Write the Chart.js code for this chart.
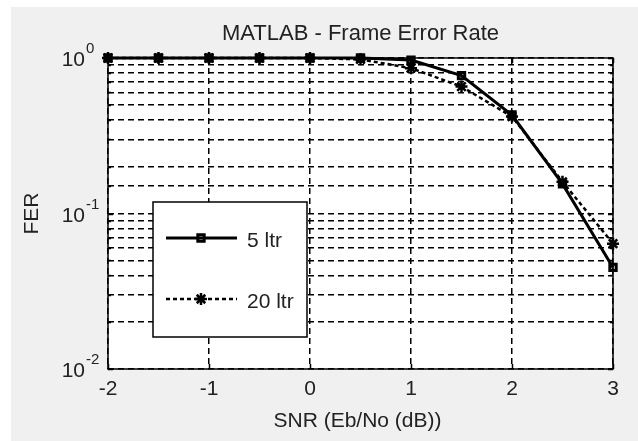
<!DOCTYPE html>
<html>
<head>
<meta charset="utf-8">
<title>MATLAB - Frame Error Rate</title>
<script src="https://cdn.jsdelivr.net/npm/chart.js@4.4.0/dist/chart.umd.min.js"></script>
<style>
  html, body { margin: 0; padding: 0; background: #fff; }
  #wrap { width: 638px; height: 441px; }
</style>
</head>
<body>
<div id="wrap"><canvas id="ferChart" width="638" height="441"></canvas></div>
<script>
// 数据
const snrDb = [-2, -1.5, -1, -0.5, 0, 0.5, 1, 1.5, 2, 2.5, 3];
const fer5Itr = [1, 1, 1, 1, 1, 1, 0.97, 0.77, 0.43, 0.155, 0.045];
const fer20Itr = [1, 1, 1, 1, 1, 0.98, 0.86, 0.655, 0.42, 0.16, 0.064];
const seriesLabels = ['5 ltr', '20 ltr'];
const xTickValues = [-2, -1, 0, 1, 2, 3];
const yMajorValues = [1, 0.1, 0.01];
const yExponents = ['0', '-1', '-2'];
const chartTitle = 'MATLAB - Frame Error Rate';
const xTitle = 'SNR (Eb/No (dB))';
const yTitle = 'FER';

const FONT = "'Liberation Sans', Arial, sans-serif";
const TEXT = '#222222';

function toPoints(xs, ys) {
  return xs.map((x, i) => ({ x, y: ys[i] }));
}

/**
 * MATLAB 风格的外框、文字和图例
 */
const matlabFrame = {
  id: 'matlabFrame',
  beforeDraw(chart) {
    const ctx = chart.ctx;
    const a = chart.chartArea;
    ctx.save();
    ctx.fillStyle = '#ffffff';
    ctx.fillRect(0, 0, chart.width, chart.height);
    ctx.fillStyle = '#f0f0f0';
    ctx.fillRect(11, 7, chart.width - 11, chart.height - 7);
    ctx.fillStyle = '#ffffff';
    ctx.fillRect(a.left, a.top, a.right - a.left, a.bottom - a.top);
    ctx.restore();
  },
  beforeDatasetsDraw(chart) {
    const ctx = chart.ctx;
    const a = chart.chartArea;
    const xs = chart.scales.x;
    const ys = chart.scales.y;
    ctx.save();
    ctx.strokeStyle = '#000';
    ctx.lineWidth = 1.5;
    // 刻度线（内侧）
    ctx.beginPath();
    xTickValues.forEach(v => {
      const px = Math.round(xs.getPixelForValue(v)) + 0.5;
      ctx.moveTo(px, a.bottom); ctx.lineTo(px, a.bottom - 5);
      ctx.moveTo(px, a.top); ctx.lineTo(px, a.top + 5);
    });
    ys.ticks.forEach(t => {
      const py = Math.round(ys.getPixelForValue(t.value)) + 0.5;
      const len = yMajorValues.includes(t.value) ? 5 : 3;
      ctx.moveTo(a.left, py); ctx.lineTo(a.left + len, py);
      ctx.moveTo(a.right, py); ctx.lineTo(a.right - len, py);
    });
    ctx.stroke();
    ctx.strokeRect(a.left, a.top, a.right - a.left, a.bottom - a.top);
    ctx.restore();
  },
  afterDraw(chart) {
    const ctx = chart.ctx;
    const a = chart.chartArea;
    const ys = chart.scales.y;
    const cx = (a.left + a.right) / 2;
    ctx.save();
    ctx.fillStyle = TEXT;

    // 标题
    ctx.font = '22px ' + FONT;
    ctx.textAlign = 'center';
    ctx.textBaseline = 'alphabetic';
    ctx.fillText(chartTitle, cx, 40);

    // x 轴标题
    ctx.font = '21px ' + FONT;
    ctx.fillText(xTitle, cx - 3, 427);

    // y 轴标题
    ctx.save();
    ctx.translate(38, (a.top + a.bottom) / 2);
    ctx.rotate(-Math.PI / 2);
    ctx.textAlign = 'center';
    ctx.fillText(yTitle, 0, 0);
    ctx.restore();

    // y 轴刻度标签 10^n
    yMajorValues.forEach((v, i) => {
      const py = ys.getPixelForValue(v);
      ctx.font = '21px ' + FONT;
      ctx.textAlign = 'right';
      ctx.textBaseline = 'alphabetic';
      ctx.fillText('10', 85, py + 8);
      ctx.font = '15px ' + FONT;
      ctx.textAlign = 'left';
      ctx.fillText(yExponents[i], 86, py - 5);
    });

    // 图例
    const box = { left: 153, top: 202, right: 307, bottom: 337 };
    ctx.fillStyle = '#ffffff';
    ctx.fillRect(box.left, box.top, box.right - box.left, box.bottom - box.top);
    ctx.strokeStyle = '#000';
    ctx.lineWidth = 1.5;
    ctx.strokeRect(box.left, box.top, box.right - box.left, box.bottom - box.top);

    const rows = [238, 299];
    chart.data.datasets.forEach((ds, i) => {
      const y = rows[i];
      ctx.save();
      ctx.strokeStyle = ds.borderColor;
      ctx.lineWidth = ds.borderWidth;
      ctx.setLineDash(ds.borderDash || []);
      ctx.beginPath();
      ctx.moveTo(166, y);
      ctx.lineTo(237, y);
      ctx.stroke();
      ctx.setLineDash([]);
      ctx.strokeStyle = ds.pointBorderColor;
      ctx.fillStyle = ds.pointBackgroundColor;
      ctx.lineWidth = ds.pointBorderWidth;
      Chart.helpers.drawPoint(ctx, {
        pointStyle: ds.pointStyle,
        radius: ds.pointRadius,
        borderWidth: ds.pointBorderWidth,
        rotation: 0
      }, 201, y);
      ctx.restore();
      ctx.fillStyle = TEXT;
      ctx.font = '21px ' + FONT;
      ctx.textAlign = 'left';
      ctx.textBaseline = 'middle';
      ctx.fillText(ds.label, 247, y + 3);
    });
    ctx.restore();
  }
};

const ctx = document.getElementById('ferChart');

new Chart(ctx, {
  type: 'line',
  data: {
    datasets: [
      {
        label: seriesLabels[0],
        data: toPoints(snrDb, fer5Itr),
        borderColor: '#000000',
        borderWidth: 3,
        pointStyle: 'rect',
        pointRadius: 4.5,
        pointBorderWidth: 3,
        pointBorderColor: '#000000',
        pointBackgroundColor: 'rgba(0,0,0,0)',
        tension: 0,
        clip: false,
        order: 1
      },
      {
        label: seriesLabels[1],
        data: toPoints(snrDb, fer20Itr),
        borderColor: '#000000',
        borderWidth: 2.5,
        borderDash: [4, 3],
        pointStyle: 'star',
        pointRadius: 6,
        pointBorderWidth: 2.5,
        pointBorderColor: '#000000',
        pointBackgroundColor: '#000000',
        tension: 0,
        clip: false,
        order: 2
      }
    ]
  },
  options: {
    responsive: false,
    animation: false,
    devicePixelRatio: 1,
    layout: { padding: { top: 58, right: 25, bottom: 0, left: 0 } },
    plugins: {
      legend: { display: false },
      title: { display: false },
      tooltip: { enabled: false }
    },
    scales: {
      x: {
        type: 'linear',
        min: -2,
        max: 3,
        afterFit: (scale) => { scale.height = 72; },
        ticks: {
          stepSize: 1,
          color: TEXT,
          font: { family: FONT, size: 21 },
          padding: 8,
          maxRotation: 0
        },
        grid: { color: '#000000', lineWidth: 1.5, drawTicks: false },
        border: { display: false, dash: [6, 4] }
      },
      y: {
        type: 'logarithmic',
        min: 0.01,
        max: 1,
        afterFit: (scale) => { scale.width = 108; },
        ticks: { display: false, autoSkip: false },
        grid: { color: '#000000', lineWidth: 1.5, drawTicks: false },
        border: { display: false, dash: [6, 4] }
      }
    }
  },
  plugins: [matlabFrame]
});
</script>
</body>
</html>
